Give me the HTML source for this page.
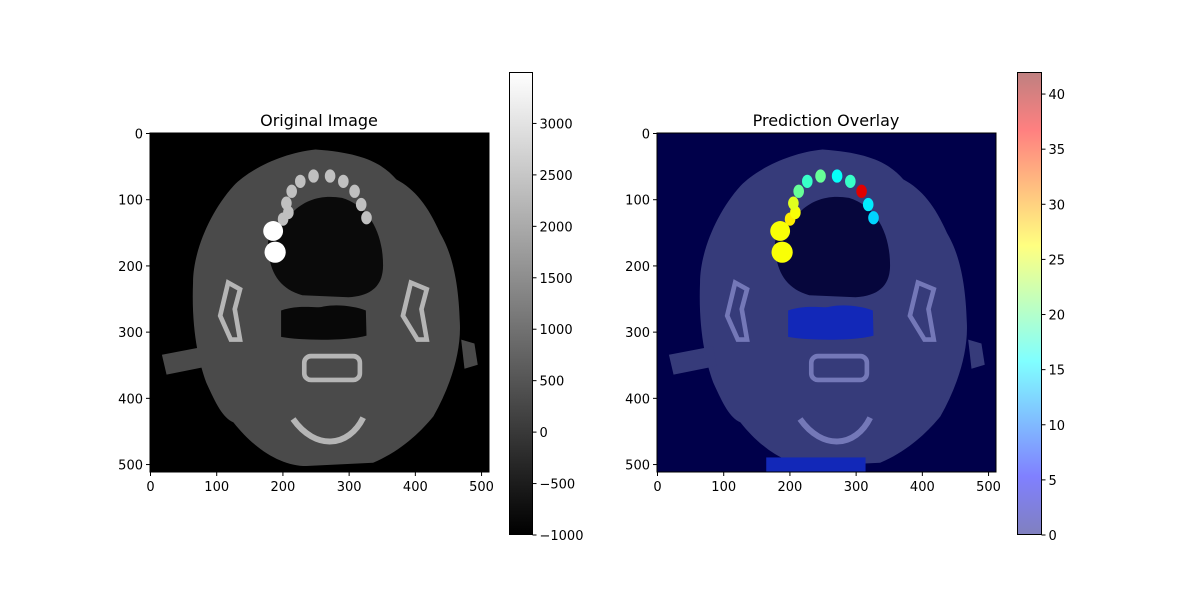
<!DOCTYPE html>
<html><head><meta charset="utf-8"><style>
body{margin:0;background:#fff;font-family:"DejaVu Sans","Liberation Sans",sans-serif}
svg text{font-family:"DejaVu Sans","Liberation Sans",sans-serif}
</style></head><body>
<svg id="fig" width="1200" height="600" viewBox="0 0 1200 600" xmlns="http://www.w3.org/2000/svg">
<defs>
<linearGradient id="gray" x1="0" y1="1" x2="0" y2="0"><stop offset="0" stop-color="#000"/><stop offset="1" stop-color="#fff"/></linearGradient>
<linearGradient id="jet" x1="0" y1="1" x2="0" y2="0">
<stop offset="0" stop-color="#8080bf"/><stop offset="0.125" stop-color="#8080ff"/><stop offset="0.375" stop-color="#80ffff"/><stop offset="0.625" stop-color="#ffff80"/><stop offset="0.875" stop-color="#ff8080"/><stop offset="1" stop-color="#bf8080"/></linearGradient>
<clipPath id="c1"><rect x="0" y="0" width="512" height="512"/></clipPath>
</defs>
<text x="319" y="126" text-anchor="middle" font-size="16">Original Image</text>
<text x="826" y="126" text-anchor="middle" font-size="16">Prediction Overlay</text>
<g id="left" transform="translate(150,133) scale(0.6621)" clip-path="url(#c1)">
<rect width="512" height="512" fill="#000"/>
<g id="anat-l"></g>
</g>
<g id="right" transform="translate(657,133) scale(0.6621)" clip-path="url(#c1)">
<rect width="512" height="512" fill="#00004a"/>
<g id="anat-r"></g>
</g>
<rect x="150" y="133" width="339" height="339" fill="none" stroke="#000" stroke-width="1"/>
<rect x="657" y="133" width="339" height="339" fill="none" stroke="#000" stroke-width="1"/>
<rect x="509.5" y="72.5" width="23" height="462" fill="url(#gray)" stroke="#000"/>
<rect x="1017.5" y="72.5" width="24" height="462" fill="url(#jet)" stroke="#000"/>
<g id="ticks"></g>
</svg>
<script>
const imgTicks=[0,100,200,300,400,500];
const grayTicks=[-1000,-500,0,500,1000,1500,2000,2500,3000];
const jetTicks=[0,5,10,15,20,25,30,35,40];
const grayRange=[-1000,3500];
const jetRange=[0,42];
const teeth=[[201,130],[209,120],[206,106],[214,88],[227,73],[247,65],[272,65],[292,73],[309,88],[319,108],[327,128]];
const toothVal=[27,26,25,20,18,20,16,18,38,15,14];
const NS='http://www.w3.org/2000/svg';
function mk(p,t,a){const e=document.createElementNS(NS,t);for(const k in a)e.setAttribute(k,a[k]);p.appendChild(e);return e;}
function jet(v){const t=v/42;const c=x=>Math.max(0,Math.min(1,1.5-Math.abs(4*t-x)));return `rgb(${Math.round(c(3)*255)},${Math.round(c(2)*255)},${Math.round(c(1)*255)})`;}
function anat(g,pred){
 const head=pred?'#363b7a':'#4a4a4a', dark=pred?'#06063c':'#0a0a0a', bone=pred?'#7478b8':'#b5b5b5';
 const h=mk(g,'path',{d:'M250,25 C200,30 150,55 126,80 C90,120 65,180 65,226 C62,300 75,350 85,377 C100,410 110,430 126,437 C160,480 200,503 236,503 L337,498 C380,480 410,450 428,428 C455,380 470,330 468,287 C466,220 455,180 438,151 C420,110 400,85 372,70 C350,45 320,30 250,25Z',fill:head});
 
 mk(g,'path',{d:'M18,335 L85,322 L90,352 L25,365Z',fill:head});
 mk(g,'path',{d:'M470,312 L490,318 L495,350 L475,356Z',fill:head});
 const m=mk(g,'path',{d:'M215,120 C235,100 260,93 290,98 C330,110 352,150 352,200 C352,230 335,246 300,248 L230,245 C195,235 180,210 178,170 C178,150 195,130 215,120Z',fill:dark});
 
 const a=mk(g,'path',{d:'M198,268 C230,258 250,266 262,262 C285,258 310,262 326,268 L327,306 C300,314 230,314 198,308Z',fill:pred?'#1228b8':'#080808'});
 
 [[106,226,136,312],[382,226,418,312]].forEach(r=>{const e=mk(g,'path',{d:`M${r[0]+12},${r[1]} L${r[2]},${r[1]+10} L${r[2]-8},${r[1]+40} L${r[2]},${r[3]} L${r[2]-14},${r[3]} L${r[0]},${r[1]+50}Z`,fill:'none',stroke:bone,'stroke-width':7});});
 const v=mk(g,'rect',{x:233,y:337,width:84,height:36,rx:10,fill:'none',stroke:bone,'stroke-width':7});
 mk(g,'path',{d:'M216,432 C250,480 300,475 322,430',fill:'none',stroke:bone,'stroke-width':9});
 teeth.forEach((p,i)=>{const e=mk(g,'ellipse',{cx:p[0],cy:p[1],rx:8,ry:10,fill:pred?jet(toothVal[i]):'#c0c0c0'});});
 const c1=mk(g,'circle',{cx:186,cy:148,r:15,fill:pred?jet(26):'#fff'});
 const c2=mk(g,'circle',{cx:189,cy:180,r:16,fill:pred?jet(26):'#fff'});
 if(pred){mk(g,'rect',{x:165,y:490,width:150,height:30,fill:'#1228b8'});}
}
anat(document.getElementById('anat-l'),false);
anat(document.getElementById('anat-r'),true);
const T=document.getElementById('ticks');
const sx=339/512;
[150,657].forEach((x0,pi)=>{
 imgTicks.forEach(t=>{
  const x=x0+t*sx+0.5;
  mk(T,'line',{x1:x,y1:472,x2:x,y2:476,stroke:'#000'});
  const tx=mk(T,'text',{x:x,y:491,'text-anchor':'middle','font-size':13});tx.textContent=t;
  
  const y=133+t*sx+0.5;
  mk(T,'line',{x1:x0-4,y1:y,x2:x0,y2:y,stroke:'#000'});
  const ty=mk(T,'text',{x:x0-7,y:y+5,'text-anchor':'end','font-size':13});ty.textContent=t;
  
 });
});
function cb(ticks,range,x){ticks.forEach(t=>{const y=535-(t-range[0])/(range[1]-range[0])*463;
 mk(T,'line',{x1:x,y1:y,x2:x+4,y2:y,stroke:'#000'});
 const e=mk(T,'text',{x:x+7,y:y+5,'font-size':13});e.textContent=String(t).replace('-','\u2212');
 });}
cb(grayTicks,grayRange,532.5);
cb(jetTicks,jetRange,1041.5);
</script>
</body></html>
